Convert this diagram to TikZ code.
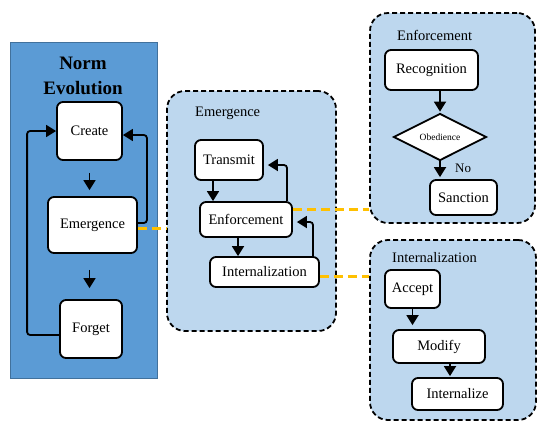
\documentclass[tikz,border=0pt]{standalone}
\usepackage{fontspec}
\setmainfont{Liberation Serif}
\usetikzlibrary{arrows.meta,shapes.geometric}
\definecolor{leftblue}{HTML}{5B9BD5}
\definecolor{leftedge}{HTML}{41719C}
\definecolor{panelblue}{HTML}{BDD7EE}
\definecolor{gold}{HTML}{FFC000}
\begin{document}
\begin{tikzpicture}[x=1pt,y=-1pt,
 box/.style={draw=black, fill=white, line width=1.8pt, rounded corners=6pt, inner sep=0pt, font=\fontsize{14.5}{16}\selectfont},
 panel/.style={draw=black, fill=panelblue, line width=1.8pt, dash pattern=on 5pt off 3pt, rounded corners=18pt, inner sep=0pt},
 arr/.style={-{Triangle[length=10pt,width=12pt]}, line width=1.8pt, rounded corners=3pt},
 link/.style={draw=gold, line width=3pt, dash pattern=on 9pt off 5pt},
 title/.style={anchor=west, inner sep=0pt, font=\fontsize{14.5}{16}\selectfont}]
\useasboundingbox (0,0) rectangle (538,421);
% left panel
\node[draw=leftedge, fill=leftblue, line width=1pt, minimum width=147pt, minimum height=336pt, inner sep=0pt] (normpanel) at (83.5,210) {};
\node[font=\bfseries\fontsize{19}{25}\selectfont, align=center, inner sep=0pt] (normtitle) at (83,76) {Norm\\Evolution};
% dashed panels
\node[panel, minimum width=169pt, minimum height=240pt] (empanel) at (251.5,211) {};
\node[panel, minimum width=165pt, minimum height=210pt] (enfpanel) at (452.5,118) {};
\node[panel, minimum width=166pt, minimum height=180pt] (intpanel) at (453,330) {};
\node[title] (emtitle) at (195,113) {Emergence};
\node[title] (enftitle) at (397,35) {Enforcement};
\node[title] (inttitle) at (392,258) {Internalization};
% left boxes
\node[box, minimum width=65pt, minimum height=58pt] (create) at (89.5,131) {Create};
\node[box, minimum width=89pt, minimum height=56pt] (emerg) at (92.5,225) {Emergence};
\node[box, minimum width=62pt, minimum height=58pt] (forget) at (91,329) {Forget};
\draw[arr, shorten <=12pt, shorten >=6pt] (create.south) -- (create.south |- emerg.north);
\draw[arr, shorten <=16pt, shorten >=11pt] (create.south |- emerg.south) -- (create.south |- forget.north);
\draw[arr] ([yshift=-6pt]forget.west) -| ([xshift=-29pt]create.west) -- (create.west);
\draw[arr] ([yshift=2pt]emerg.east) -| ([xshift=24pt,yshift=-4pt]create.east) -- ([yshift=-4pt]create.east);
% emergence boxes
\node[box, minimum width=68pt, minimum height=40pt] (transmit) at (229,160) {Transmit};
\node[box, minimum width=92pt, minimum height=35pt] (enf) at (246,219.5) {Enforcement};
\node[box, minimum width=109pt, minimum height=30pt] (intl) at (264.5,272) {Internalization};
\draw[arr] ([xshift=-16pt]transmit.south) -- ([xshift=-16pt]transmit.south |- enf.north);
\draw[arr] ([xshift=-8pt]enf.south) -- ([xshift=-8pt]enf.south |- intl.north);
\draw[arr, shorten >=4pt] ([xshift=41pt]enf.north) |- ([yshift=-5pt]transmit.east);
\draw[arr, shorten >=4pt] ([xshift=48.5pt]intl.north) |- ([yshift=-2.5pt]enf.east);
% enforcement panel content
\node[box, minimum width=93pt, minimum height=40pt] (recog) at (431.5,70) {Recognition};
\node[draw=black, fill=white, diamond, aspect=2, line width=1.8pt, minimum width=93pt, minimum height=47pt, inner sep=0pt, font=\fontsize{9.5}{11}\selectfont] (obed) at (440,137) {Obedience};
\node[box, minimum width=67pt, minimum height=35pt] (sanc) at (463.5,197.5) {Sanction};
\draw[arr, shorten >=1pt] (recog.south -| obed.north) -- (obed.north);
\draw[arr, shorten >=2pt] (obed.south) -- (obed.south |- sanc.north);
\node[anchor=west, inner sep=0pt, font=\fontsize{13}{15}\selectfont] (nolabel) at (455,168) {No};
% internalization panel content
\node[box, minimum width=55pt, minimum height=38pt] (accept) at (412.5,289) {Accept};
\node[box, minimum width=92pt, minimum height=33pt] (modify) at (439,346.5) {Modify};
\node[box, minimum width=91pt, minimum height=32pt] (intlz) at (457.5,394) {Internalize};
\draw[arr, shorten >=4pt] (accept.south) -- (accept.south |- modify.north);
\draw[arr, shorten >=1pt] ([xshift=11pt]modify.south) -- ([xshift=11pt]modify.south |- intlz.north);
% yellow links
\draw[link] ([yshift=-3pt]emerg.east) -- ([yshift=-3pt]emerg.east -| empanel.west);
\draw[link] ([yshift=10.5pt]enf.east) -- ([yshift=10.5pt]enf.east -| enfpanel.west);
\draw[link] ([yshift=-4pt]intl.east) -- ([yshift=-4pt]intl.east -| intpanel.west);
\end{tikzpicture}
\end{document}
